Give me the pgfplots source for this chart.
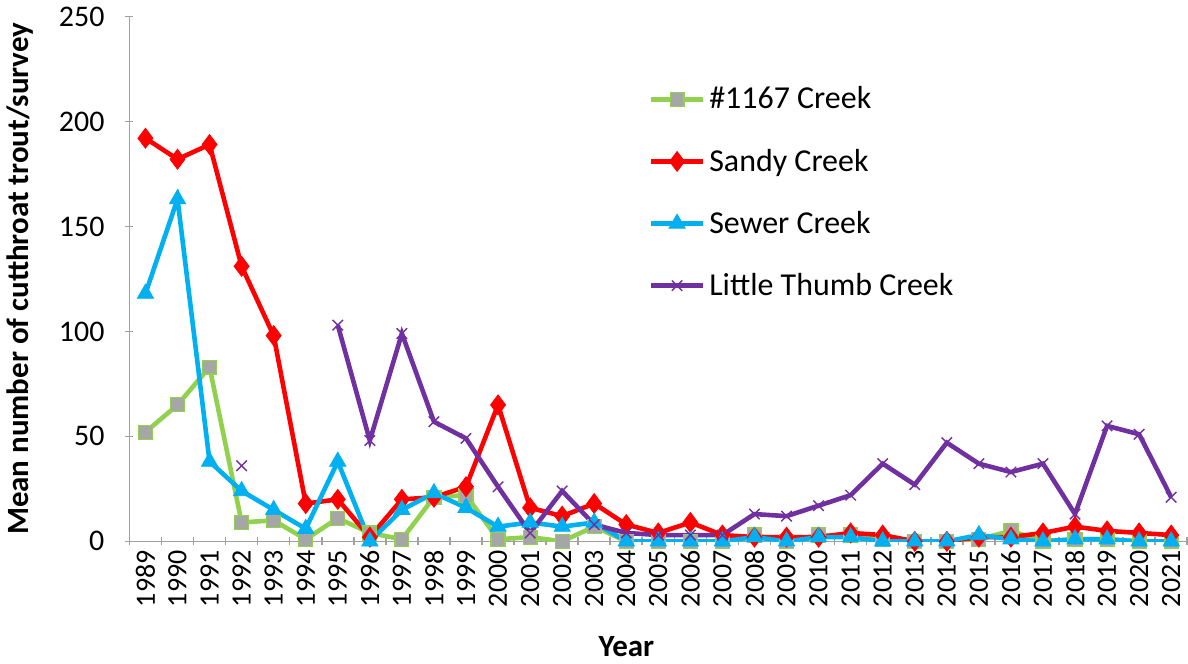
\documentclass[border=0pt]{standalone}
\usepackage{fontspec}
\setmainfont{Carlito}
\usepackage{pgfplots}
\pgfplotsset{compat=1.18}
\usepackage{pgfplotstable}
\definecolor{cgreen}{RGB}{146,208,80}
\definecolor{cgray}{RGB}{166,166,166}
\definecolor{cred}{RGB}{255,0,0}
\definecolor{cblue}{RGB}{0,176,240}
\definecolor{cpurple}{RGB}{112,48,160}
\definecolor{caxis}{RGB}{160,160,160}

% year, #1167, Sandy, Sewer, Little Thumb
\pgfplotstableread{
year  c1167 sandy sewer thumb
1989  52  192  118  nan
1990  65  182  163  nan
1991  83  189  38   nan
1992  9   131  24   36
1993  10  98   15   nan
1994  1   18   6    nan
1995  11  20   38   103
1996  4   2    0    48
1997  1   20   15   99
1998  21  21   23   57
1999  22  26   16   49
2000  1   65   7    26
2001  2   16   9    4
2002  0   12   7    24
2003  7   18   9    8
2004  0   8    0    4
2005  0   4    0    3
2006  0   9    0    3
2007  0   3    0    3
2008  3   2    2    13
2009  0   2    0    12
2010  3   2    2    17
2011  3   4    2    22
2012  1   3    0    37
2013  0   0    0    27
2014  0   0    0    47
2015  1   2    3    37
2016  5   2    1    33
2017  0   4    0    37
2018  1   7    1    13
2019  1   5    1    55
2020  0   4    0    51
2021  0   3    0    21
}\trout

\begin{document}
\begin{tikzpicture}
\begin{axis}[
  scale only axis,
  width=530pt, height=263pt,
  xmin=1988.5, xmax=2021.5,
  ymin=0, ymax=250,
  ytick={0,50,...,250},
  xtick={1989,...,2021},
  minor xtick={1988.5,1989.5,...,2021.5},
  major x tick style={draw=none},
  minor x tick style={draw=caxis, thick},
  minor tick length=4pt,
  major tick length=4pt,
  tick align=outside,
  axis x line=bottom, axis y line=left,
  axis line style={-, draw=caxis, thick},
  y tick style={draw=caxis, thick},
  x tick label style={rotate=90, anchor=east, font=\fontsize{14}{16}\selectfont, xshift=1pt},
  y tick label style={font=\fontsize{15}{17}\selectfont, xshift=-7pt},
  /pgf/number format/assume math mode=true,
  xticklabel={\pgfmathprintnumber[1000 sep={}]{\tick}},
  xlabel={\textbf{Year}},
  ylabel={\textbf{Mean number of cutthroat trout/survey}},
  xlabel style={font=\fontsize{15.5}{17}\selectfont, yshift=-8pt, xshift=-16pt},
  ylabel style={font=\fontsize{15.5}{17}\selectfont, yshift=6pt},
  unbounded coords=jump,
  legend style={at={(0.485,0.882)}, anchor=north west, draw=none, fill=none,
    font=\fontsize{16}{17}\selectfont, row sep=14.5pt},
  legend cell align=left,
  legend image code/.code={
    \draw[#1, mark repeat=2, mark phase=2] plot coordinates {(0pt,0pt) (13pt,0pt) (26pt,0pt)};
  },
]
\addplot[cgreen, line width=2.3pt, mark=square*, mark size=3.5pt,
  mark options={fill=cgray, draw=cgreen, line width=0.6pt}] table[x=year, y=c1167] {\trout};
\addlegendentry{\#1167 Creek}
\addplot[cred, line width=2.3pt, mark=diamond*, mark size=5pt,
  mark options={fill=cred, draw=cred, line width=0.4pt}] table[x=year, y=sandy] {\trout};
\addlegendentry{Sandy Creek}
\addplot[cblue, line width=2.3pt, mark=triangle*, mark size=4.7pt,
  mark options={fill=cblue, draw=cblue, line width=0.4pt}] table[x=year, y=sewer] {\trout};
\addlegendentry{Sewer Creek}
\addplot[cpurple, line width=2.3pt, mark=x, mark size=3.7pt,
  mark options={draw=cpurple, line width=0.7pt}] table[x=year, y=thumb] {\trout};
\addlegendentry{Little Thumb Creek}
\end{axis}
\end{tikzpicture}
\end{document}
